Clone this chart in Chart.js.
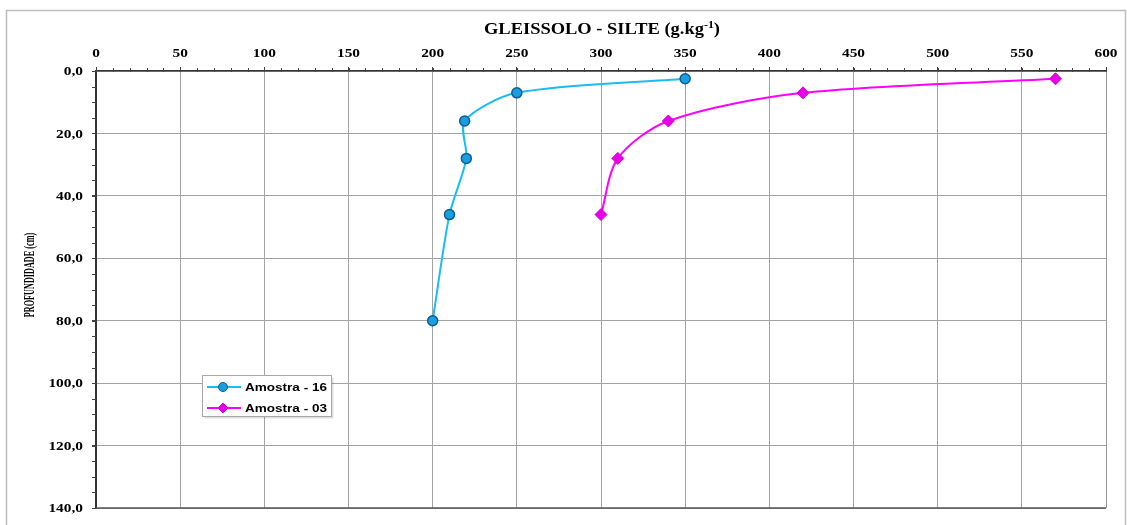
<!DOCTYPE html>
<html>
<head>
<meta charset="utf-8">
<script src="https://cdn.jsdelivr.net/npm/chart.js@4.4.0/dist/chart.umd.min.js"></script>
<style>
html,body{margin:0;padding:0;background:#fff;}
#wrap{width:1127px;height:525px;position:relative;}
</style>
</head>
<body>
<div id="wrap"><canvas id="c"></canvas></div>
<script>
// ---- data ----
const seriesNames = ['Amostra - 16', 'Amostra - 03'];
const sample16X = [350, 250, 219, 220, 210, 200];
const sample16Y = [2.5, 7, 16, 28, 46, 80];
const sample03X = [570, 420, 340, 310, 300];
const sample03Y = [2.5, 7, 16, 28, 46];
const xTicks = [0, 50, 100, 150, 200, 250, 300, 350, 400, 450, 500, 550, 600];
const xTickLabels = ['0', '50', '100', '150', '200', '250', '300', '350', '400', '450', '500', '550', '600'];
const yTicks = [0, 20, 40, 60, 80, 100, 120, 140];
const yTickLabels = ['0,0', '20,0', '40,0', '60,0', '80,0', '100,0', '120,0', '140,0'];
const titleMain = 'GLEISSOLO - SILTE (g.kg';
const titleSup = '-1';
const titleEnd = ')';
const yTitle = 'PROFUNDIDADE (cm)';

const toPts = (xs, ys) => xs.map((x, i) => ({x: x, y: ys[i]}));

const SERIF = '"Liberation Serif","Times New Roman",serif';
const SANS = '"Liberation Sans",Arial,sans-serif';

function sText(ctx, text, x, y, font, sx, align, base, color) {
  ctx.save();
  ctx.translate(x, y);
  ctx.scale(sx, 1);
  ctx.font = font;
  ctx.textAlign = align;
  ctx.textBaseline = base;
  ctx.fillStyle = color || '#000';
  ctx.fillText(text, 0, 0);
  ctx.restore();
}

const decor = {
  id: 'decor',
  beforeDraw(chart) {
    const ctx = chart.ctx;
    ctx.save();
    ctx.fillStyle = '#fff';
    ctx.fillRect(0, 0, chart.width, chart.height);
    ctx.strokeStyle = '#bdbdbd';
    ctx.lineWidth = 1.5;
    ctx.strokeRect(6.5, 10.5, 1119, 530);
    ctx.restore();
  },
  afterDraw(chart) {
    const ctx = chart.ctx;
    const xs = chart.scales.x, ys = chart.scales.y;
    const a = chart.chartArea;
    ctx.save();
    // bottom and right frame of plot
    ctx.strokeStyle = '#555';
    ctx.lineWidth = 1.5;
    ctx.beginPath(); ctx.moveTo(a.left, a.bottom); ctx.lineTo(a.right, a.bottom); ctx.stroke();
    ctx.strokeStyle = '#999';
    ctx.lineWidth = 1;
    ctx.beginPath(); ctx.moveTo(a.right + 0.5, a.top); ctx.lineTo(a.right + 0.5, a.bottom); ctx.stroke();
    // minor ticks
    ctx.strokeStyle = '#444';
    ctx.lineWidth = 1;
    for (let v = 0; v <= 600; v += 10) {
      const px = Math.round(xs.getPixelForValue(v)) + 0.5;
      ctx.beginPath(); ctx.moveTo(px, a.top - 3); ctx.lineTo(px, a.top + 1); ctx.stroke();
    }
    for (let v = 0; v <= 140; v += 5) {
      const py = Math.round(ys.getPixelForValue(v)) + 0.5;
      ctx.beginPath(); ctx.moveTo(a.left - 4, py); ctx.lineTo(a.left, py); ctx.stroke();
    }
    // tick labels
    xTicks.forEach((v, i) => {
      sText(ctx, xTickLabels[i], xs.getPixelForValue(v), 57, 'bold 12px ' + SERIF, 1.28, 'center', 'alphabetic');
    });
    yTicks.forEach((v, i) => {
      sText(ctx, yTickLabels[i], 83, ys.getPixelForValue(v) + 1, 'bold 12px ' + SERIF, 1.28, 'right', 'middle');
    });
    // title
    ctx.font = 'bold 17px ' + SERIF;
    const w1 = ctx.measureText(titleMain).width;
    const w3 = ctx.measureText(titleEnd).width;
    ctx.font = 'bold 11px ' + SERIF;
    const w2 = ctx.measureText(titleSup).width;
    const W = w1 + w2 + w3;
    const target = 236;
    const s = target / W;
    const x0 = 602 - target / 2;
    sText(ctx, titleMain, x0, 34, 'bold 17px ' + SERIF, s, 'left', 'alphabetic');
    sText(ctx, titleSup, x0 + w1 * s, 28, 'bold 11px ' + SERIF, s, 'left', 'alphabetic');
    sText(ctx, titleEnd, x0 + (w1 + w2) * s, 34, 'bold 17px ' + SERIF, s, 'left', 'alphabetic');
    // y title
    ctx.save();
    ctx.translate(31, 275);
    ctx.rotate(-Math.PI / 2);
    ctx.scale(1, 1.65);
    ctx.font = 'bold 8.2px ' + SERIF;
    ctx.textAlign = 'center';
    ctx.textBaseline = 'middle';
    ctx.fillStyle = '#000';
    ctx.fillText(yTitle, 0, 0);
    ctx.restore();
    // legend
    const lx = 202.5, ly = 375.5, lw = 129, lh = 41;
    ctx.fillStyle = 'rgba(0,0,0,0.12)';
    ctx.fillRect(lx + 2, ly + 2, lw, lh);
    ctx.fillStyle = '#fff';
    ctx.fillRect(lx, ly, lw, lh);
    ctx.strokeStyle = '#a8a8a8';
    ctx.lineWidth = 1;
    ctx.strokeRect(lx, ly, lw, lh);
    chart.data.datasets.forEach((ds, i) => {
      const yy = 387 + i * 21;
      ctx.strokeStyle = ds.borderColor;
      ctx.lineWidth = 2;
      ctx.beginPath(); ctx.moveTo(207, yy); ctx.lineTo(241, yy); ctx.stroke();
      ctx.fillStyle = ds.pointBackgroundColor;
      ctx.strokeStyle = ds.pointBorderColor;
      ctx.lineWidth = 1;
      ctx.beginPath();
      if (ds.pointStyle === 'rectRot') {
        ctx.moveTo(223, yy - 5); ctx.lineTo(228, yy); ctx.lineTo(223, yy + 5); ctx.lineTo(218, yy); ctx.closePath();
      } else {
        ctx.arc(223, yy, 4.5, 0, Math.PI * 2);
      }
      ctx.fill(); ctx.stroke();
      sText(ctx, ds.label, 245, yy + 0.5, 'bold 11px ' + SANS, 1.23, 'left', 'middle');
    });
    ctx.restore();
  }
};

new Chart(document.getElementById('c'), {
  type: 'scatter',
  data: {
    datasets: [
      {
        label: seriesNames[0],
        data: toPts(sample16X, sample16Y),
        showLine: true,
        tension: 0.28,
        borderColor: '#19bdf0',
        borderWidth: 2,
        pointStyle: 'circle',
        pointRadius: 5,
        pointHoverRadius: 5,
        pointBackgroundColor: '#1a9fde',
        pointBorderColor: '#0a5c9c',
        pointBorderWidth: 1.5
      },
      {
        label: seriesNames[1],
        data: toPts(sample03X, sample03Y),
        showLine: true,
        tension: 0.3,
        borderColor: '#ff00ff',
        borderWidth: 2,
        pointStyle: 'rectRot',
        pointRadius: 6,
        pointHoverRadius: 6,
        pointBackgroundColor: '#e600e6',
        pointBorderColor: '#d400d4',
        pointBorderWidth: 1
      }
    ]
  },
  options: {
    responsive: true,
    maintainAspectRatio: false,
    animation: false,
    events: [],
    layout: {padding: {left: 0, top: 0, right: 21, bottom: 17}},
    plugins: {legend: {display: false}, title: {display: false}, tooltip: {enabled: false}},
    scales: {
      x: {
        type: 'linear',
        position: 'top',
        min: 0, max: 600,
        afterBuildTicks(scale) { scale.ticks = xTicks.map(v => ({value: v})); },
        afterFit(scale) { scale.height = 71; },
        ticks: {display: false},
        grid: {color: '#a3a3a3', lineWidth: 1, drawTicks: true, tickLength: 4, tickColor: '#444'},
        border: {display: true, color: '#333', width: 1.5}
      },
      y: {
        type: 'linear',
        reverse: true,
        min: 0, max: 140,
        afterBuildTicks(scale) { scale.ticks = yTicks.map(v => ({value: v})); },
        afterFit(scale) { scale.width = 96; },
        ticks: {display: false},
        grid: {color: '#a3a3a3', lineWidth: 1, drawTicks: true, tickLength: 4, tickColor: '#444'},
        border: {display: true, color: '#333', width: 2}
      }
    }
  },
  plugins: [decor]
});
</script>
</body>
</html>
